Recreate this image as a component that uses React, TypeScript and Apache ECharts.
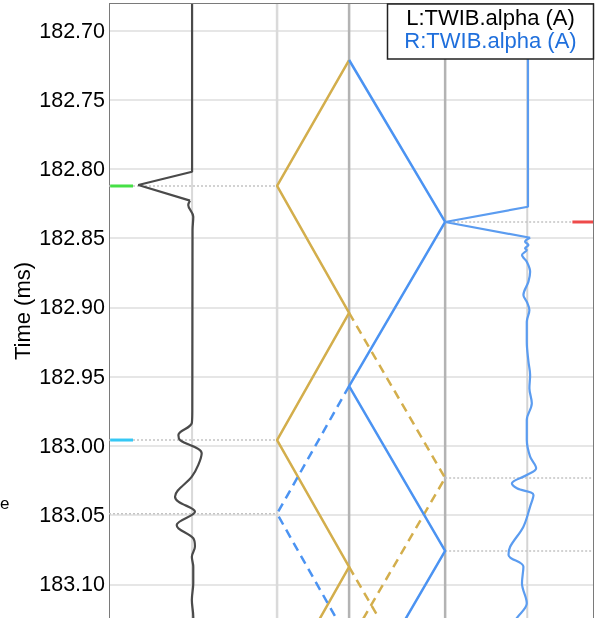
import React, { useEffect, useRef } from "react";
import * as echarts from "echarts";

// Positions along the line, km
const busKm = [7, 10, 14];
const traceBaseKm = [3.46, 17.42];
const plotSpanKm: [number, number] = [0, 20.2];

// Time window of the time axis, ms
const timeRange: [number, number] = [182.65, 183.15];
const timeStep = 0.05;

// Lattice paths as [km, ms]
const forwardSolid: [number, number][] = [
  [10, 182.7213], [7, 182.8123], [10, 182.904], [7, 182.9958], [10, 183.0875], [7, 183.1792],
];
const forwardDashedA: [number, number][] = [[10, 182.904], [14, 183.0232], [10, 183.1424]];
const forwardDashedB: [number, number][] = [[10, 183.0875], [14, 183.2067]];
const backwardSolid: [number, number][] = [
  [10, 182.7213], [14, 182.8383], [10, 182.9568], [14, 183.0759], [10, 183.195],
];
const backwardDashed: [number, number][] = [[10, 182.9568], [7, 183.049], [10, 183.141]];

// Arrival times at the two ends, ms
const leftArrivals = [182.8123, 182.9958, 183.049];
const rightArrivals = [182.8383, 183.0232, 183.0759];

// Picked events: time ms, side, colour
const pickTimes = [182.8123, 182.9958, 182.8383];
const pickSides = ["L", "L", "R"];
const pickColors = ["#46e046", "#35c8f5", "#ee4a4a"];

// Recorded waveforms, [km, ms]: first-arrival spike, then the ringing tail
const leftSpike: [number, number][] = [
  [3.46, 182.65], [3.46, 182.802], [1.22, 182.8116], [3.375, 182.8229],
];
const leftTail: [number, number][] = [
  [3.375, 182.8229], [3.3, 182.826], [3.51, 182.8345], [3.48, 182.8441], [3.47, 182.9741],
  [3.45, 182.9835], [2.89, 182.9922], [2.96, 182.9958], [3.86, 183.0054], [3.72, 183.0138],
  [3.45, 183.0223], [2.75, 183.0367], [2.89, 183.0403], [3.58, 183.0476], [2.82, 183.0572],
  [2.89, 183.0596], [3.51, 183.0668], [3.58, 183.0728], [3.45, 183.0801], [3.51, 183.0873],
  [3.51, 183.0993], [3.45, 183.1113], [3.51, 183.1234], [3.46, 183.15],
];
const rightSpike: [number, number][] = [
  [17.45, 182.65], [17.45, 182.8273], [14.0, 182.8383], [17.54, 182.8497],
];
const rightTail: [number, number][] = [
  [17.54, 182.8497], [17.33, 182.8525], [17.47, 182.8549], [17.33, 182.8573], [17.4, 182.8585],
  [17.2, 182.8622], [17.4, 182.867], [17.54, 182.8742], [17.47, 182.8814], [17.26, 182.891],
  [17.4, 182.8959], [17.51, 182.9019], [17.4, 182.9103], [17.4, 182.9248], [17.47, 182.9392],
  [17.54, 182.9488], [17.51, 182.9584], [17.61, 182.9693], [17.4, 182.9813], [17.4, 182.9958],
  [17.54, 183.0078], [17.79, 183.0162], [17.4, 183.0211], [16.78, 183.0271], [16.99, 183.0307],
  [17.68, 183.0355], [17.54, 183.0439], [17.26, 183.0584], [16.71, 183.0728], [16.64, 183.0788],
  [17.26, 183.0873], [17.2, 183.0993], [17.4, 183.1137], [16.99, 183.1243], [16.71, 183.133],
];

const legendLines = ["L:TWIB.alpha (A)", "R:TWIB.alpha (A)"];
const legendColors = ["#000000", "#1f6fdc"];

const FONT = "'Liberation Sans', Arial, sans-serif";
const GOLD = "#d3ae4c";
const BLUE = "#4b93f2";
const LEFT_TRACE = "#4a4a4a";
const RIGHT_TRACE = "#5b9cf0";

function lineSeries(
  data: [number, number][],
  color: string,
  width: number,
  type: any = "solid",
  z = 3,
  smooth: number | boolean = false
) {
  return {
    type: "line",
    data,
    symbol: "none",
    smooth,
    z,
    silent: true,
    lineStyle: { color, width, type },
  };
}

export default function App() {
  const ref = useRef<HTMLDivElement>(null);

  useEffect(() => {
    const chart = echarts.init(ref.current!, null, { renderer: "svg" });

    const verticalGuides = [
      { km: traceBaseKm[0], color: "#d9d9d9", width: 2 },
      { km: busKm[0], color: "#dadada", width: 2.5 },
      { km: busKm[1], color: "#b3b3b3", width: 2.5 },
      { km: busKm[2], color: "#b3b3b3", width: 2.5 },
      { km: traceBaseKm[1], color: "#d4d4d4", width: 2 },
    ].map((g) =>
      lineSeries([[g.km, timeRange[0]], [g.km, timeRange[1]]], g.color, g.width, "solid", 1)
    );

    const arrivalLines = [
      ...leftArrivals.map((t) =>
        lineSeries([[plotSpanKm[0], t], [busKm[0], t]], "#c4c4c4", 1.5, [2, 2], 2)
      ),
      ...rightArrivals.map((t) =>
        lineSeries([[busKm[2], t], [plotSpanKm[1], t]], "#c4c4c4", 1.5, [2, 2], 2)
      ),
    ];

    const picks = pickTimes.map((t, i) => {
      const seg: [number, number][] =
        pickSides[i] === "L"
          ? [[plotSpanKm[0] + 0.05, t], [plotSpanKm[0] + 1, t]]
          : [[plotSpanKm[1] - 0.9, t], [plotSpanKm[1], t]];
      return lineSeries(seg, pickColors[i], 3, "solid", 6);
    });

    const dash = [9, 6];

    chart.setOption({
      animation: false,
      grid: {
        left: 109,
        width: 485,
        top: -41.7,
        height: 692.2,
        containLabel: false,
        outerBoundsMode: "none",
      },
      xAxis: {
        type: "value",
        min: plotSpanKm[0],
        max: plotSpanKm[1],
        show: false,
      },
      yAxis: {
        type: "value",
        inverse: true,
        min: timeRange[0],
        max: timeRange[1],
        interval: timeStep,
        axisLine: { show: true, lineStyle: { color: "#7a7a7a", width: 1 } },
        axisTick: { show: false },
        axisLabel: {
          color: "#000",
          fontSize: 21.5,
          fontFamily: FONT,
          margin: 4,
          showMinLabel: false,
          showMaxLabel: false,
          formatter: (v: number) => v.toFixed(2),
        },
        splitLine: { show: true, lineStyle: { color: "#e6e6e6", width: 2 } },
      },
      series: [
        ...verticalGuides,
        ...arrivalLines,
        lineSeries(forwardSolid, GOLD, 2.5, "solid", 3),
        lineSeries(forwardDashedA, GOLD, 2.5, dash, 3),
        lineSeries(forwardDashedB, GOLD, 2.5, dash, 3),
        lineSeries(backwardSolid, BLUE, 2.5, "solid", 4),
        lineSeries(backwardDashed, BLUE, 2.5, dash, 4),
        lineSeries(leftSpike, LEFT_TRACE, 2.2, "solid", 5),
        lineSeries(leftTail, LEFT_TRACE, 2.2, "solid", 5, 0.35),
        lineSeries(rightSpike, RIGHT_TRACE, 2.2, "solid", 5),
        lineSeries(rightTail, RIGHT_TRACE, 2.2, "solid", 5, 0.35),
        ...picks,
      ],
      graphic: [
        {
          type: "line",
          z: 50,
          shape: { x1: 109, y1: 0.5, x2: 594, y2: 0.5 },
          style: { stroke: "#7a7a7a", lineWidth: 1 },
        },
        {
          type: "line",
          z: 50,
          shape: { x1: 593.5, y1: 0, x2: 593.5, y2: 700 },
          style: { stroke: "#7a7a7a", lineWidth: 1 },
        },
        {
          type: "rect",
          z: 60,
          shape: { x: 387.5, y: 1, width: 206, height: 55 },
          style: { fill: "#ffffff", stroke: "#222222", lineWidth: 1.5 },
        },
        ...legendLines.map((txt, i) => ({
          type: "text",
          z: 61,
          x: 490.5,
          y: 14.5 + i * 23,
          style: {
            text: txt,
            fill: legendColors[i],
            font: `22px ${FONT}`,
            align: "center",
            verticalAlign: "middle",
          },
        })),
        {
          type: "text",
          z: 61,
          x: 22,
          y: 308,
          rotation: Math.PI / 2,
          style: {
            text: "Time (ms)",
            fill: "#000",
            font: `22px ${FONT}`,
            align: "center",
            verticalAlign: "middle",
          },
        },
        {
          type: "text",
          z: 61,
          x: 0,
          y: 500,
          style: {
            text: "e",
            fill: "#000",
            font: `17px ${FONT}`,
            align: "left",
            verticalAlign: "middle",
          },
        },
      ],
    });

    return () => chart.dispose();
  }, []);

  return (
    <div
      ref={ref}
      style={{ position: "fixed", left: 0, top: 3, width: 597, height: 615 }}
    />
  );
}
